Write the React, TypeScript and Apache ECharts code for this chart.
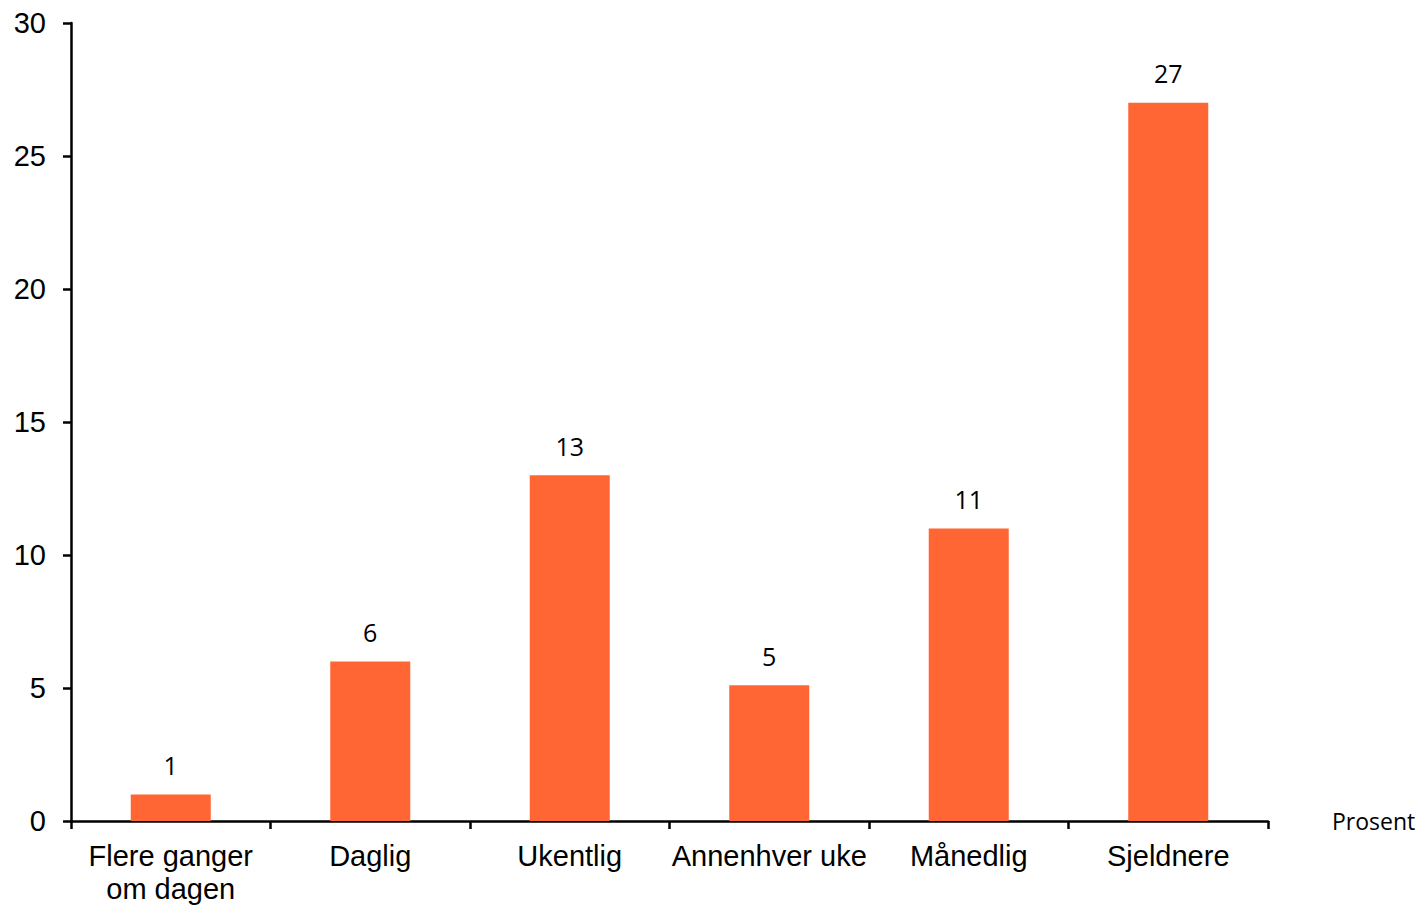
import React, { useEffect, useRef } from "react";
import * as echarts from "echarts";

const categories = ["Flere ganger\nom dagen", "Daglig", "Ukentlig", "Annenhver uke", "Månedlig", "Sjeldnere"];
const values = [1, 6, 13, 5.1, 11, 27];
const axisName = "Prosent";

export default function App() {
  const ref = useRef<HTMLDivElement>(null);
  useEffect(() => {
    if (!ref.current) return;
    const chart = echarts.init(ref.current, null, { renderer: "svg" });
    chart.setOption({
      animation: false,
      grid: { left: 71, right: 152, top: 23, bottom: 85, containLabel: false },
      xAxis: {
        type: "category",
        data: categories,
        name: axisName,
        nameLocation: "end",
        nameGap: 64,
        nameTextStyle: { fontFamily: "Open Sans", fontSize: 23, color: "#000", verticalAlign: "middle", padding: [0, 0, 2, 0] },
        axisLine: { lineStyle: { color: "#000", width: 2.5 } },
        axisTick: { show: true, length: 8, lineStyle: { color: "#000", width: 2.5 }, alignWithLabel: false },
        axisLabel: {
          color: "#000",
          fontFamily: "Liberation Sans",
          fontSize: 29,
          margin: 18,
          lineHeight: 33,
          interval: 0,
        },
      },
      yAxis: {
        type: "value",
        min: 0,
        max: 30,
        interval: 5,
        splitLine: { show: false },
        axisLine: { show: true, lineStyle: { color: "#000", width: 2.5 } },
        axisTick: { show: true, length: 8, lineStyle: { color: "#000", width: 2.5 } },
        axisLabel: { color: "#000", fontFamily: "Liberation Sans", fontSize: 29, margin: 25 },
      },
      series: [
        {
          type: "bar",
          data: values,
          barWidth: 80,
          itemStyle: { color: "#FF6633" },
          label: {
            show: true,
            position: "top",
            distance: 17,
            color: "#000",
            fontFamily: "Open Sans",
            fontSize: 25,
            formatter: (p: any) => String(Math.round(p.value)),
          },
        },
      ],
    });
    return () => chart.dispose();
  }, []);
  return <div ref={ref} style={{ width: 1420, height: 906, position: "absolute", left: 0, top: 0 }} />;
}
